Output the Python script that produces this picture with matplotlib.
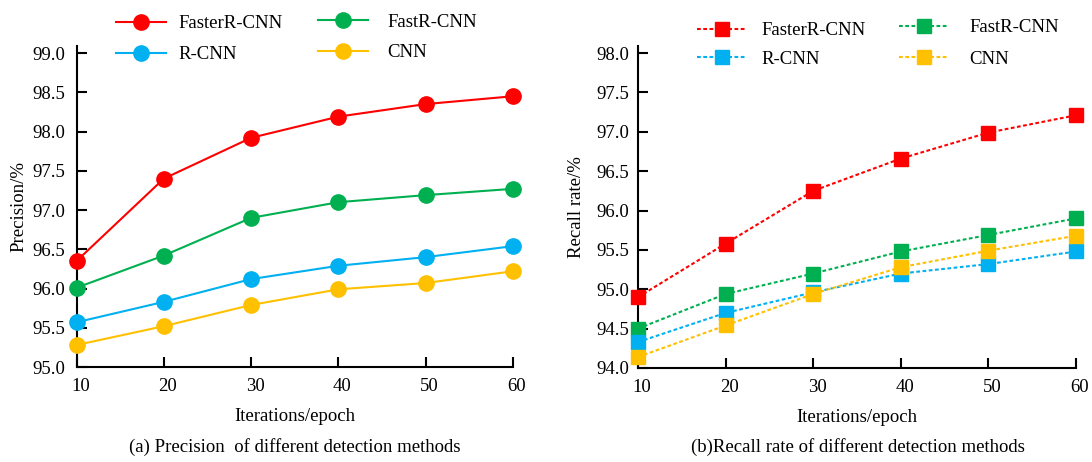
import matplotlib
matplotlib.use("Agg")
import matplotlib.pyplot as plt
import matplotlib.transforms as mtrans

plt.rcParams['font.family'] = ['Liberation Serif', 'DejaVu Serif']

epochs = [10, 20, 30, 40, 50, 60]
methods = ["FasterR-CNN", "FastR-CNN", "R-CNN", "CNN"]
colors = ["#ff0000", "#00b050", "#00b0f0", "#ffc000"]

precision_faster = [96.35, 97.40, 97.92, 98.19, 98.35, 98.45]
precision_fast = [96.01, 96.42, 96.90, 97.10, 97.19, 97.27]
precision_rcnn = [95.57, 95.83, 96.12, 96.29, 96.40, 96.54]
precision_cnn = [95.28, 95.52, 95.79, 95.99, 96.07, 96.22]

recall_faster = [94.90, 95.58, 96.25, 96.66, 96.99, 97.21]
recall_fast = [94.50, 94.94, 95.20, 95.48, 95.69, 95.90]
recall_rcnn = [94.33, 94.70, 94.96, 95.20, 95.32, 95.48]
recall_cnn = [94.14, 94.54, 94.94, 95.28, 95.49, 95.68]

precision = [precision_faster, precision_fast, precision_rcnn, precision_cnn]
recall = [recall_faster, recall_fast, recall_rcnn, recall_cnn]

fs = 13.5
W, H = 1092, 462
fig = plt.figure(figsize=(W/100, H/100), dpi=100)
ax1 = fig.add_axes([76.5/W, 1-367/H, (513-76.5)/W, (367-46)/H])
ax2 = fig.add_axes([638/W, 1-368/H, (1076-638)/W, (368-46)/H])

def style(ax, ylim, yticks, ypad):
    ax.set_xlim(10, 60)
    ax.set_ylim(*ylim)
    ax.set_xticks(epochs)
    ax.set_yticks(yticks)
    ax.set_yticklabels([f"{v:.1f}" for v in yticks])
    for s in ["top", "right"]:
        ax.spines[s].set_visible(False)
    for s in ["left", "bottom"]:
        ax.spines[s].set_linewidth(1.5)
    ax.tick_params(axis='x', direction='in', length=7, width=1.5, labelsize=fs, pad=8)
    ax.tick_params(axis='y', direction='in', length=7, width=1.5, labelsize=fs, pad=ypad)
    off = mtrans.ScaledTranslation(4/100, 0, fig.dpi_scale_trans)
    for lab in ax.get_xticklabels():
        lab.set_transform(lab.get_transform() + off)
    ax.set_xlabel("Iterations/epoch", fontsize=fs, labelpad=9.5)

for vals, c, m in zip(precision, colors, methods):
    ax1.plot(epochs, vals, color=c, lw=1.5, marker='o', markersize=11,
             clip_on=False, zorder=3, label=m)
for vals, c, m in zip(recall, colors, methods):
    ax2.plot(epochs, vals, color=c, lw=1.5, linestyle=(0, (1.8, 1.2)), marker='s',
             markersize=10.5, clip_on=False, zorder=3, label=m)

style(ax1, (95.0, 99.09), [95.0, 95.5, 96.0, 96.5, 97.0, 97.5, 98.0, 98.5, 99.0], 8)
style(ax2, (94.0, 98.09), [94.0, 94.5, 95.0, 95.5, 96.0, 96.5, 97.0, 97.5, 98.0], 6.5)
ax1.set_ylabel("Precision/%", fontsize=fs, labelpad=3.5)
ax2.set_ylabel("Recall rate/%", fontsize=fs, labelpad=8)

def col_legend(ax, idx, x, y, rowgap_ls, textpad):
    h, l = ax.get_legend_handles_labels()
    fig.legend([h[i] for i in idx], [l[i] for i in idx], ncol=1, frameon=False,
               fontsize=fs, loc='upper left', bbox_to_anchor=(x/W, 1-y/H),
               handlelength=2.65, handletextpad=textpad, labelspacing=rowgap_ls,
               borderaxespad=0, borderpad=0)

col_legend(ax1, [0, 2], 116, 15, 0.75, 0.7)
col_legend(ax1, [1, 3], 318, 13.5, 0.72, 1.05)
col_legend(ax2, [0, 2], 697, 22, 0.62, 0.8)
col_legend(ax2, [1, 3], 899, 19, 0.78, 1.1)

fig.text(295/W, 1-447/H, "(a) Precision  of different detection methods",
         fontsize=fs, ha='center', va='center')
fig.text(858/W, 1-447/H, "(b)Recall rate of different detection methods",
         fontsize=fs, ha='center', va='center')

fig.savefig("out.png", dpi=100)
